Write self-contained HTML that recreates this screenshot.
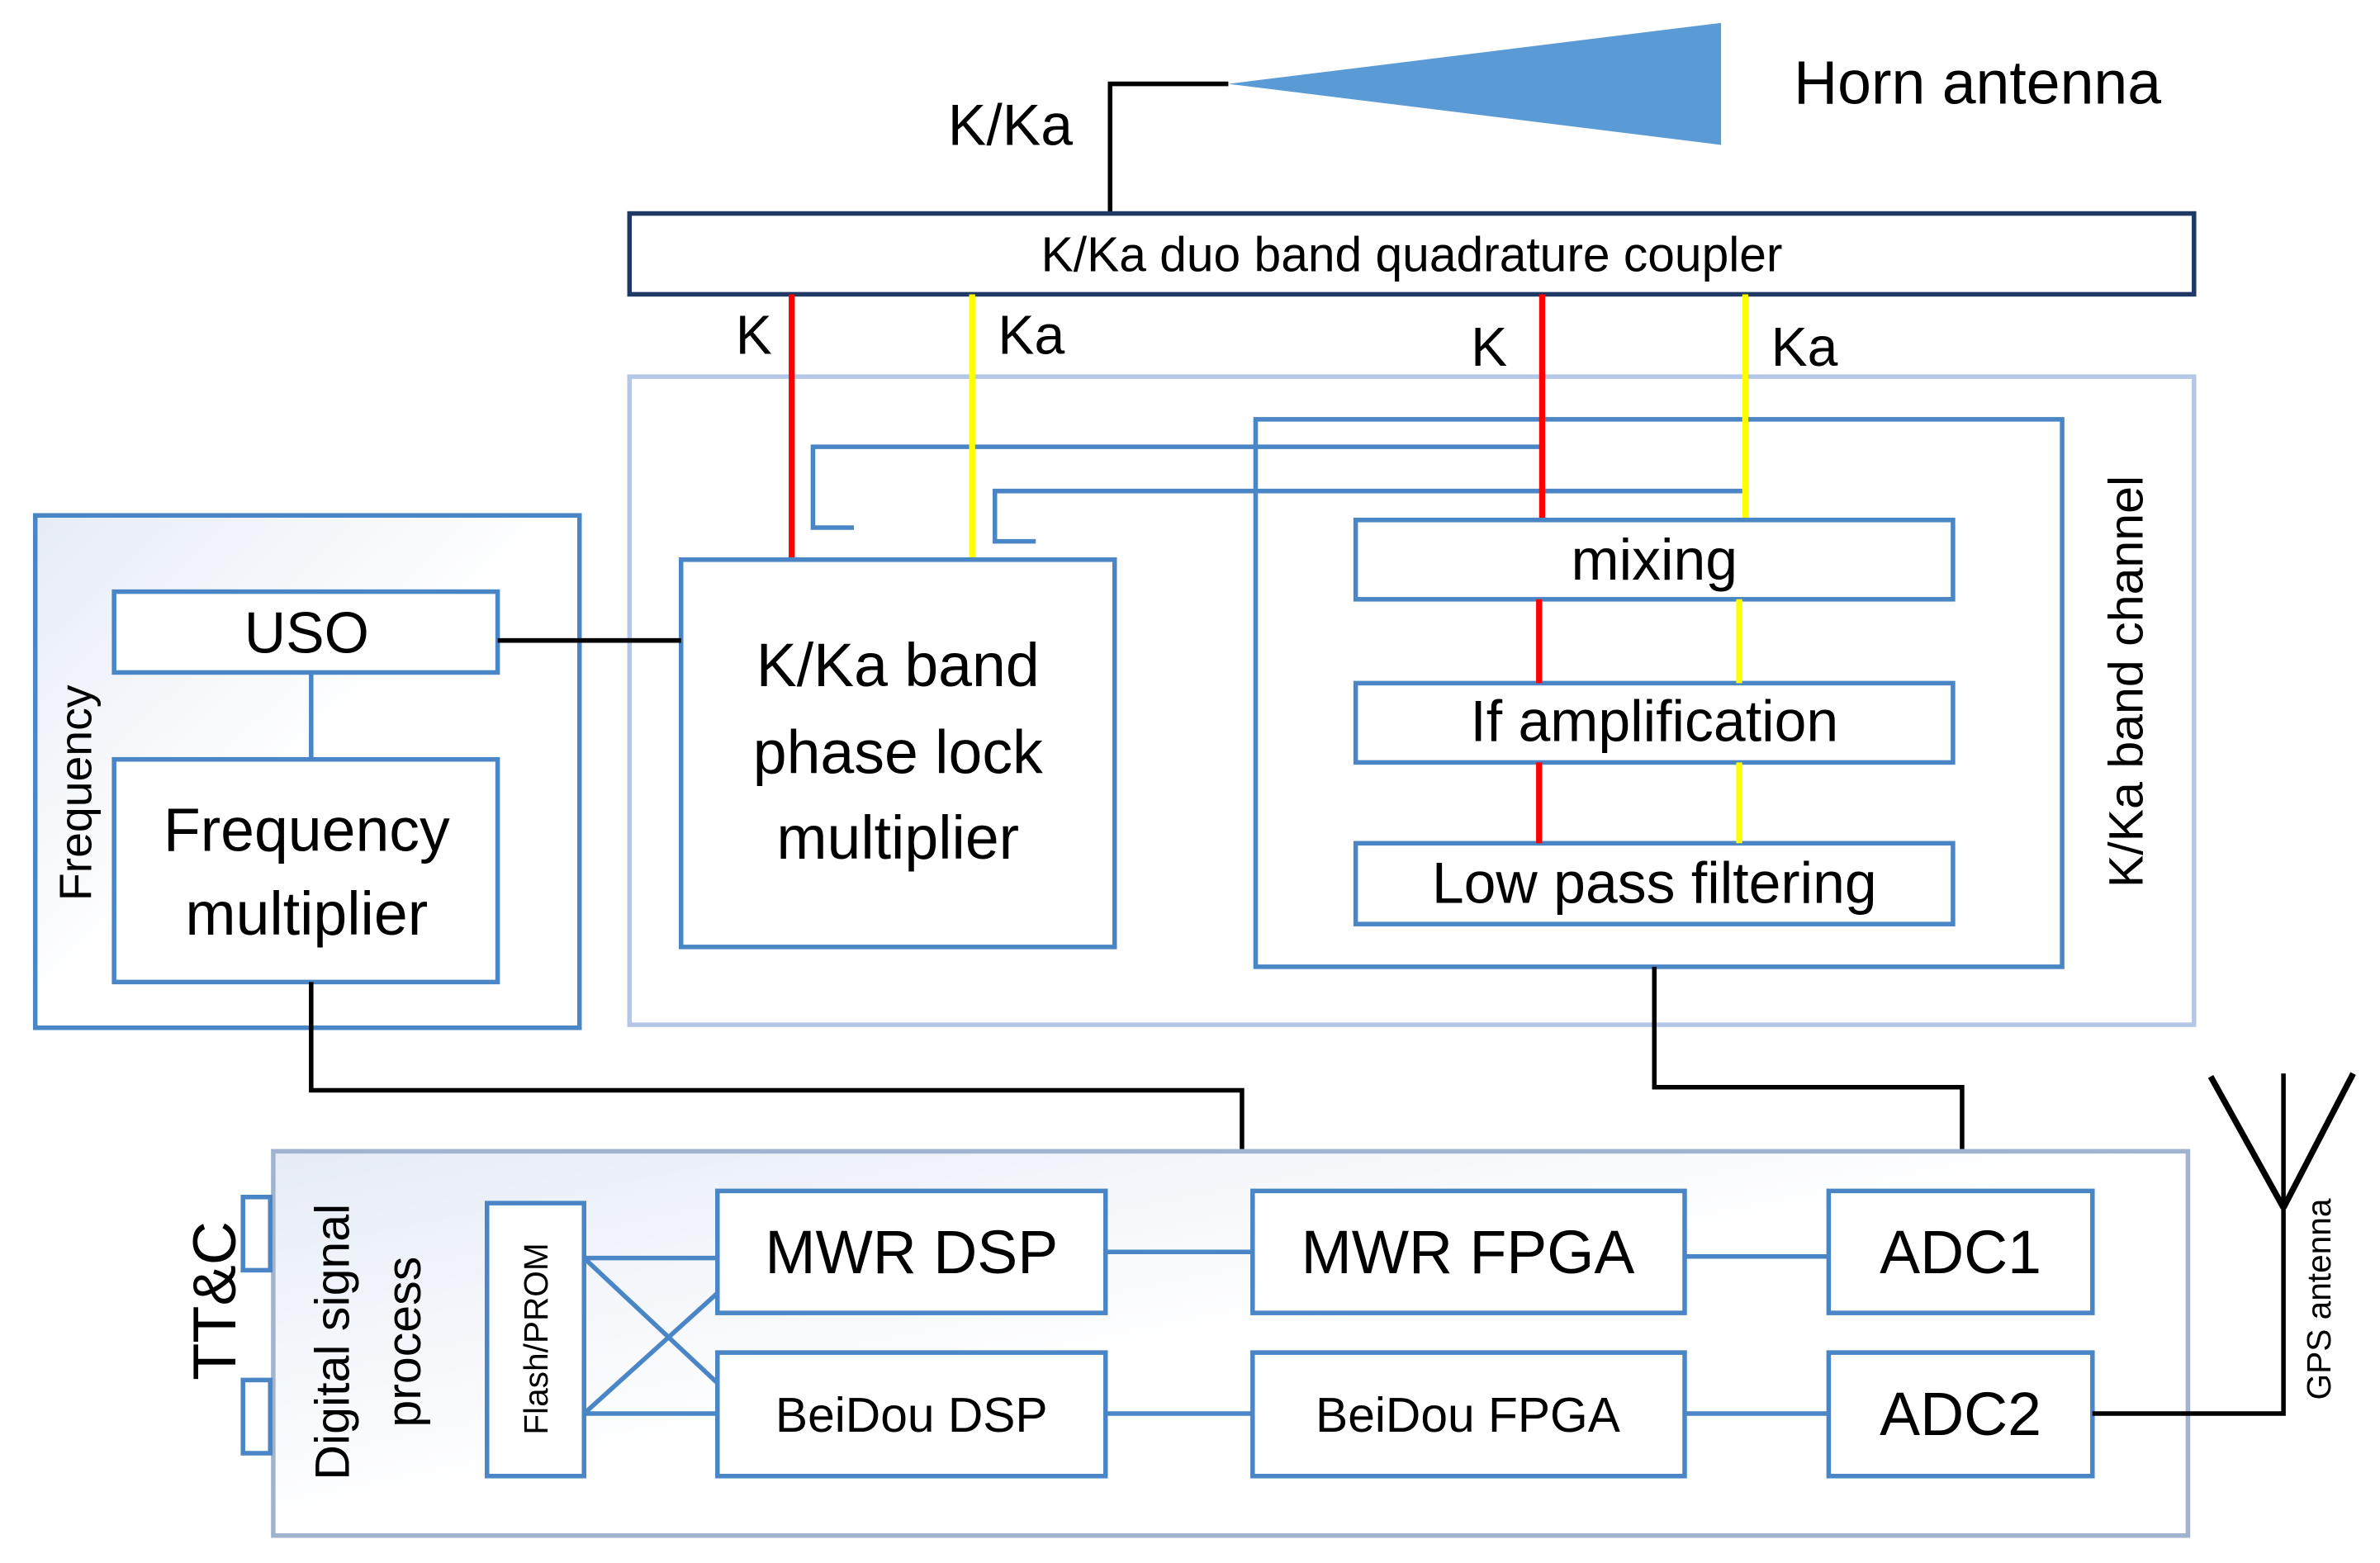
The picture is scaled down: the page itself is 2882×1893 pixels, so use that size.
<!DOCTYPE html>
<html><head><meta charset="utf-8"><style>html,body{margin:0;padding:0;background:#fff}svg{display:block}</style></head>
<body>
<svg width="2882" height="1893" viewBox="0 0 1560 1025" xmlns="http://www.w3.org/2000/svg" font-family="Liberation Sans, DejaVu Sans, sans-serif">
<defs>
<linearGradient id="g1" x1="0" y1="0" x2="1" y2="1"><stop offset="0" stop-color="#e6ecf6"/><stop offset="0.5" stop-color="#ffffff"/><stop offset="1" stop-color="#ffffff"/></linearGradient>
</defs>
<rect width="1560" height="1025" fill="#fff"/>
<g transform="scale(0.994,1)">
<polygon points="810,55 1135,15 1135,95" fill="#5b9bd5"/>
<polyline points="810,55 732,55 732,140" fill="none" stroke="#000" stroke-width="3"/>
<text x="625" y="95" font-size="38">K/Ka</text>
<text x="1183" y="68" font-size="40">Horn antenna</text>
<rect x="415" y="140" width="1032" height="53" fill="#fff" stroke="#1f3864" stroke-width="3"/>
<text x="931" y="178" font-size="32" text-anchor="middle">K/Ka duo band quadrature coupler</text>
<rect x="415" y="247" width="1032" height="425" fill="none" stroke="#b4c7e7" stroke-width="3"/>
<rect x="828" y="275" width="532" height="359" fill="none" stroke="#4a86c5" stroke-width="3"/>
<polyline points="1017,293 536,293 536,346 563,346" fill="none" stroke="#4a86c5" stroke-width="3"/>
<polyline points="1151,322 656,322 656,355 683,355" fill="none" stroke="#4a86c5" stroke-width="3"/>
<line x1="522" y1="193" x2="522" y2="368" stroke="#ff0000" stroke-width="4"/>
<line x1="641" y1="193" x2="641" y2="368" stroke="#ffff00" stroke-width="4"/>
<line x1="1017" y1="193" x2="1017" y2="342" stroke="#ff0000" stroke-width="4"/>
<line x1="1151" y1="193" x2="1151" y2="342" stroke="#ffff00" stroke-width="4"/>
<text x="485" y="232" font-size="36">K</text>
<text x="658" y="232" font-size="36">Ka</text>
<text x="970" y="240" font-size="36">K</text>
<text x="1168" y="240" font-size="36">Ka</text>
<rect x="449" y="367" width="286" height="254" fill="#fff" stroke="#4a86c5" stroke-width="3"/>
<text x="592" y="450" font-size="40" text-anchor="middle">K/Ka band</text>
<text x="592" y="507" font-size="40" text-anchor="middle">phase lock</text>
<text x="592" y="563" font-size="40" text-anchor="middle">multiplier</text>
<rect x="894" y="341" width="394" height="52" fill="#fff" stroke="#4a86c5" stroke-width="3"/>
<text x="1091" y="380" font-size="38" text-anchor="middle">mixing</text>
<rect x="894" y="448" width="394" height="52" fill="#fff" stroke="#4a86c5" stroke-width="3"/>
<text x="1091" y="486" font-size="38" text-anchor="middle">If amplification</text>
<rect x="894" y="553" width="394" height="53" fill="#fff" stroke="#4a86c5" stroke-width="3"/>
<text x="1091" y="592" font-size="38" text-anchor="middle">Low pass filtering</text>
<line x1="1015" y1="393" x2="1015" y2="448" stroke="#ff0000" stroke-width="4"/>
<line x1="1015" y1="500" x2="1015" y2="553" stroke="#ff0000" stroke-width="4"/>
<line x1="1147" y1="393" x2="1147" y2="448" stroke="#ffff00" stroke-width="4"/>
<line x1="1147" y1="500" x2="1147" y2="553" stroke="#ffff00" stroke-width="4"/>
<text transform="translate(1413,447) rotate(-90)" font-size="32" text-anchor="middle">K/Ka band channel</text>
<rect x="23" y="338" width="359" height="336" fill="url(#g1)" stroke="#4a86c5" stroke-width="3"/>
<text transform="translate(60,520) rotate(-90)" font-size="30" text-anchor="middle">Frequency</text>
<rect x="75" y="388" width="253" height="53" fill="#fff" stroke="#4a86c5" stroke-width="3"/>
<text x="202" y="428" font-size="38" text-anchor="middle">USO</text>
<line x1="205" y1="441" x2="205" y2="498" stroke="#4a86c5" stroke-width="3"/>
<rect x="75" y="498" width="253" height="146" fill="#fff" stroke="#4a86c5" stroke-width="3"/>
<text x="202" y="558" font-size="40" text-anchor="middle">Frequency</text>
<text x="202" y="613" font-size="40" text-anchor="middle">multiplier</text>
<line x1="328" y1="420" x2="449" y2="420" stroke="#000" stroke-width="3"/>
<polyline points="205,644 205,715 819,715 819,755" fill="none" stroke="#000" stroke-width="3"/>
<polyline points="1091,634 1091,713 1294,713 1294,781" fill="none" stroke="#000" stroke-width="3"/>
<rect x="180" y="755" width="1263" height="252" fill="url(#g1)" stroke="#a0b4d0" stroke-width="3"/>
<rect x="160" y="785" width="18" height="48" fill="#fff" stroke="#4a86c5" stroke-width="3"/>
<rect x="160" y="905" width="18" height="48" fill="#fff" stroke="#4a86c5" stroke-width="3"/>
<text transform="translate(155,853) rotate(-90)" font-size="40" text-anchor="middle">TT&amp;C</text>
<text transform="translate(230,880) rotate(-90)" font-size="32" text-anchor="middle">Digital signal</text>
<text transform="translate(277,880) rotate(-90)" font-size="32" text-anchor="middle">process</text>
<rect x="321" y="789" width="64" height="179" fill="#fff" stroke="#4a86c5" stroke-width="3"/>
<text transform="translate(361,878) rotate(-90)" font-size="22" text-anchor="middle">Flash/PROM</text>
<line x1="385" y1="825" x2="473" y2="825" stroke="#4a86c5" stroke-width="3"/>
<line x1="385" y1="927" x2="473" y2="927" stroke="#4a86c5" stroke-width="3"/>
<line x1="385" y1="825" x2="473" y2="907" stroke="#4a86c5" stroke-width="3"/>
<line x1="385" y1="927" x2="473" y2="848" stroke="#4a86c5" stroke-width="3"/>
<rect x="473" y="781" width="256" height="80" fill="#fff" stroke="#4a86c5" stroke-width="3"/>
<text x="601" y="835" font-size="40" text-anchor="middle">MWR DSP</text>
<rect x="473" y="887" width="256" height="81" fill="#fff" stroke="#4a86c5" stroke-width="3"/>
<text x="601" y="939" font-size="32" text-anchor="middle">BeiDou DSP</text>
<rect x="826" y="781" width="285" height="80" fill="#fff" stroke="#4a86c5" stroke-width="3"/>
<text x="968" y="835" font-size="40" text-anchor="middle">MWR FPGA</text>
<rect x="826" y="887" width="285" height="81" fill="#fff" stroke="#4a86c5" stroke-width="3"/>
<text x="968" y="939" font-size="32" text-anchor="middle">BeiDou FPGA</text>
<rect x="1206" y="781" width="174" height="80" fill="#fff" stroke="#4a86c5" stroke-width="3"/>
<text x="1293" y="835" font-size="40" text-anchor="middle">ADC1</text>
<rect x="1206" y="887" width="174" height="81" fill="#fff" stroke="#4a86c5" stroke-width="3"/>
<text x="1293" y="941" font-size="40" text-anchor="middle">ADC2</text>
<line x1="729" y1="821" x2="826" y2="821" stroke="#4a86c5" stroke-width="3"/>
<line x1="1111" y1="824" x2="1206" y2="824" stroke="#4a86c5" stroke-width="3"/>
<line x1="729" y1="927" x2="826" y2="927" stroke="#4a86c5" stroke-width="3"/>
<line x1="1111" y1="927" x2="1206" y2="927" stroke="#4a86c5" stroke-width="3"/>
<polyline points="1380,927 1506,927 1506,704" fill="none" stroke="#000" stroke-width="3"/>
<line x1="1458" y1="706" x2="1506" y2="792" stroke="#000" stroke-width="4"/>
<line x1="1552" y1="704" x2="1506" y2="792" stroke="#000" stroke-width="4"/>
<text transform="translate(1537,852) rotate(-90)" font-size="22" text-anchor="middle">GPS antenna</text>
</g>
</svg>
</body></html>
